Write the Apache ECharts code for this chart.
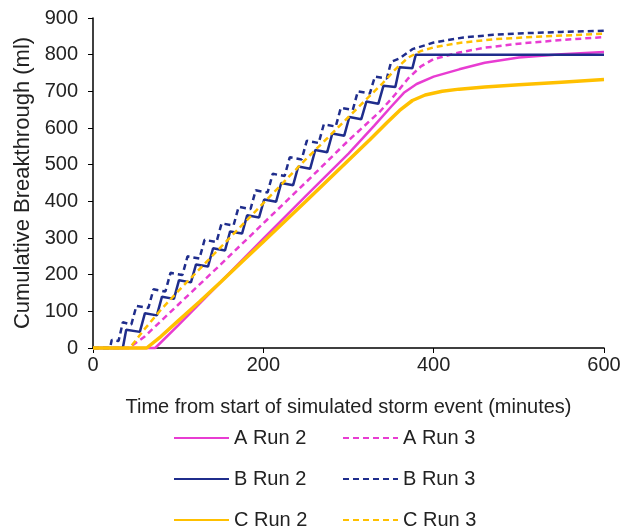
<!DOCTYPE html>
<html>
<head>
<meta charset="utf-8">
<script src="https://cdn.jsdelivr.net/npm/echarts@6/dist/echarts.min.js"></script>
<style>
html,body{margin:0;padding:0;background:#fff;}
#chart{width:635px;height:529px;}
</style>
</head>
<body>
<div id="chart"></div>
<script>
// Tick values
const xTicks = [0, 200, 400, 600];
const yTicks = [0, 100, 200, 300, 400, 500, 600, 700, 800, 900];

// Series names
const seriesNames = ['A Run 2', 'A Run 3', 'B Run 2', 'B Run 3', 'C Run 2', 'C Run 3'];

// [time (min), cumulative breakthrough (ml)]
const aRun2 = [[0,0],[73,0],[100,62],[150,180],[200,298],[250,415],[300,530],[330,606],[350,658],[365,696],[380,720],[400,740],[430,760],[460,778],[500,792],[550,801],[600,807]];
const aRun3 = [[0,0],[42,0],[60,30],[80,74],[100,118],[150,228],[200,340],[250,452],[275,509],[300,566],[337,645],[355,692],[370,735],[385,768],[400,788],[430,806],[460,819],[500,830],[550,840],[600,848]];
const bRun2 = [[0,0],[35,0],[39,50],[55,44],[61,95],[75,89],[81,140],[95,134],[101,185],[115,179],[121,228],[135,222],[141,272],[155,266],[161,318],[175,312],[181,362],[195,356],[201,405],[215,399],[221,450],[235,444],[241,495],[255,489],[261,540],[275,534],[281,585],[295,579],[301,630],[315,624],[321,672],[335,666],[341,715],[355,712],[360,766],[375,763],[379,800],[600,800]];
const bRun3 = [[0,0],[20,0],[22,22],[30,19],[35,70],[45,64],[51,115],[65,109],[71,160],[85,154],[91,205],[105,199],[111,250],[125,244],[131,295],[145,289],[151,340],[165,334],[171,385],[185,379],[191,430],[205,424],[211,475],[225,469],[231,520],[245,514],[251,565],[265,559],[271,610],[285,604],[291,655],[305,649],[311,700],[325,694],[331,740],[345,735],[350,780],[360,790],[375,815],[400,833],[435,847],[470,854],[500,858],[550,862],[600,865]];
const cRun2 = [[0,0],[63,0],[80,32],[100,74],[125,126],[150,180],[175,235],[200,290],[225,345],[250,400],[275,456],[300,512],[325,568],[345,614],[360,648],[375,675],[390,690],[410,700],[430,706],[460,712],[500,718],[550,725],[600,732]];
const cRun3 = [[0,0],[43,0],[50,20],[60,50],[80,105],[100,155],[125,215],[150,275],[175,335],[200,395],[225,455],[250,515],[275,572],[300,630],[320,676],[340,722],[355,760],[370,792],[385,810],[400,820],[430,832],[470,842],[520,849],[600,857]];

const MAG = '#E83CD2', NAVY = '#1F2D8C', GOLD = '#FFC000';
const FONT = 'Liberation Sans, Arial, sans-serif';
const TXT = '#222222';

function mkSeries(name, data, color, dashed, width) {
  return {
    name: name, type: 'line', data: data, symbol: 'none', showSymbol: false, clip: false,
    lineStyle: {color: color, width: width, type: dashed ? [6, 4] : 'solid'},
    itemStyle: {color: color},
    emphasis: {disabled: true}
  };
}

const legendPos = [
  {left: 173, top: 428}, {left: 342, top: 428},
  {left: 173, top: 469}, {left: 342, top: 469},
  {left: 173, top: 510}, {left: 342, top: 510}
];

const chart = echarts.init(document.getElementById('chart'), null, {renderer: 'canvas'});
chart.setOption({
  animation: false,
  backgroundColor: '#fff',
  grid: {left: 93, right: 31, top: 18, bottom: 181, containLabel: false},
  xAxis: {
    type: 'value', min: xTicks[0], max: xTicks[xTicks.length - 1], interval: 200,
    name: 'Time from start of simulated storm event (minutes)',
    nameLocation: 'middle', nameGap: 49,
    nameTextStyle: {fontFamily: FONT, fontSize: 20, color: TXT},
    axisLine: {show: true, lineStyle: {color: '#000', width: 1.5}},
    axisTick: {show: true, length: 5, lineStyle: {color: '#000'}},
    axisLabel: {fontFamily: FONT, fontSize: 20, color: TXT, margin: 7},
    splitLine: {show: false}
  },
  yAxis: {
    type: 'value', min: yTicks[0], max: yTicks[yTicks.length - 1], interval: 100,
    name: 'Cumulative Breakthrough (ml)',
    nameLocation: 'middle', nameGap: 51,
    nameTextStyle: {fontFamily: FONT, fontSize: 22, color: TXT},
    axisLine: {show: true, lineStyle: {color: '#000', width: 1.5}},
    axisTick: {show: true, length: 5, lineStyle: {color: '#000'}},
    axisLabel: {fontFamily: FONT, fontSize: 20, color: TXT, margin: 15},
    splitLine: {show: false}
  },
  legend: seriesNames.map((n, i) => ({
    data: [n], left: legendPos[i].left, top: legendPos[i].top,
    itemWidth: 55, itemHeight: 14, itemGap: 0, padding: 0,
    itemStyle: {opacity: 0},
    textStyle: {fontFamily: FONT, fontSize: 20, color: TXT},
    selectedMode: false
  })),
  series: [
    mkSeries(seriesNames[0], aRun2, MAG, false, 2.5),
    mkSeries(seriesNames[1], aRun3, MAG, true, 2.5),
    mkSeries(seriesNames[2], bRun2, NAVY, false, 2.5),
    mkSeries(seriesNames[3], bRun3, NAVY, true, 2.5),
    mkSeries(seriesNames[4], cRun2, GOLD, false, 3.5),
    mkSeries(seriesNames[5], cRun3, GOLD, true, 2.5)
  ]
});
</script>
</body>
</html>
